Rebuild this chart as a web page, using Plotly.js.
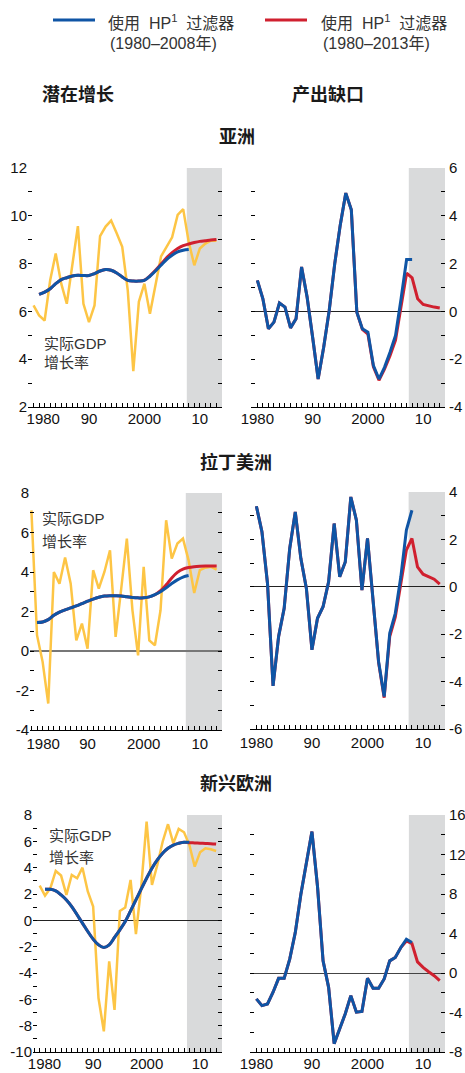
<!DOCTYPE html>
<html>
<head>
<meta charset="utf-8">
<script src="https://cdn.plot.ly/plotly-3.0.1.min.js"></script>
<style>html,body{margin:0;padding:0;background:#fff;}#chart{width:465px;height:1073px;}</style>
</head>
<body>
<div id="chart"></div>
<script>
// ---------- data ----------
const yearsAll = [1980,1981,1982,1983,1984,1985,1986,1987,1988,1989,1990,1991,1992,1993,1994,1995,1996,1997,1998,1999,2000,2001,2002,2003,2004,2005,2006,2007,2008,2009,2010,2011,2012,2013];
const yearsTrendBlue = [1981,1982,1983,1984,1985,1986,1987,1988,1989,1990,1991,1992,1993,1994,1995,1996,1997,1998,1999,2000,2001,2002,2003,2004,2005,2006,2007,2008];
const yearsTrendRed = [1981,1982,1983,1984,1985,1986,1987,1988,1989,1990,1991,1992,1993,1994,1995,1996,1997,1998,1999,2000,2001,2002,2003,2004,2005,2006,2007,2008,2009,2010,2011,2012,2013];
const yearsGapBlue = [1980,1981,1982,1983,1984,1985,1986,1987,1988,1989,1990,1991,1992,1993,1994,1995,1996,1997,1998,1999,2000,2001,2002,2003,2004,2005,2006,2007,2008];

// Asia
const asiaGrowth = [6.25,5.83,5.62,7.3,8.42,7.16,6.32,8.0,9.57,6.32,5.55,6.25,9.15,9.55,9.8,9.27,8.7,6.88,3.5,6.4,7.16,5.9,7.16,8.3,8.7,9.1,10.04,10.28,8.9,7.93,8.63,8.84,8.96,8.96];
const asiaTrendBlue = [6.71,6.81,6.95,7.16,7.33,7.41,7.48,7.51,7.50,7.50,7.58,7.69,7.75,7.72,7.61,7.44,7.30,7.27,7.27,7.30,7.47,7.69,7.93,8.17,8.35,8.49,8.56,8.59];
const asiaTrendRed = [6.71,6.81,6.95,7.16,7.33,7.41,7.48,7.51,7.50,7.50,7.58,7.69,7.75,7.72,7.61,7.44,7.30,7.27,7.27,7.31,7.49,7.72,7.98,8.24,8.46,8.63,8.75,8.82,8.88,8.93,8.96,8.99,9.01];
const asiaGapBlue = [1.3,0.53,-0.73,-0.45,0.35,0.18,-0.69,-0.31,1.86,0.6,-1.08,-2.83,-1.5,0.04,2.0,3.62,4.95,4.25,-0.03,-0.73,-0.87,-2.27,-2.83,-2.34,-1.71,-1.01,0.53,2.17,2.17];
const asiaGapRed = [1.3,0.53,-0.73,-0.45,0.35,0.18,-0.69,-0.31,1.86,0.6,-1.08,-2.83,-1.5,0.04,2.0,3.62,4.95,4.25,-0.03,-0.75,-0.95,-2.32,-2.88,-2.42,-1.85,-1.2,0.2,1.6,1.4,0.53,0.29,0.22,0.18,0.14];

// Latin America
const latamGrowth = [7.12,0.8,-0.55,-2.66,4.0,3.41,4.73,3.41,0.54,1.39,0.12,4.09,3.16,4.0,5.1,0.71,3.16,5.69,2.06,-0.22,4.26,0.54,0.29,2.06,6.62,4.68,5.44,5.69,4.59,2.94,4.09,4.22,4.26,4.12];
const latamTrendBlue = [1.44,1.47,1.59,1.81,1.97,2.08,2.18,2.28,2.40,2.52,2.63,2.72,2.78,2.80,2.80,2.79,2.75,2.71,2.69,2.70,2.74,2.85,3.00,3.20,3.42,3.60,3.74,3.82];
const latamTrendRed = [1.44,1.47,1.59,1.81,1.97,2.08,2.18,2.28,2.40,2.52,2.63,2.72,2.78,2.80,2.80,2.79,2.75,2.71,2.69,2.70,2.74,2.85,3.05,3.35,3.70,3.98,4.15,4.23,4.27,4.29,4.30,4.30,4.30];
const latamGapBlue = [3.4,2.32,0.14,-4.18,-2.1,-0.91,1.62,3.16,1.2,-0.07,-2.66,-1.33,-0.84,0.21,2.67,0.42,1.05,3.79,2.81,-0.14,2.04,-0.56,-3.16,-4.63,-1.96,-1.12,0.42,2.39,3.23];
const latamGapRed = [3.4,2.32,0.14,-4.18,-2.1,-0.91,1.62,3.16,1.2,-0.07,-2.66,-1.33,-0.84,0.21,2.67,0.42,1.05,3.79,2.81,-0.14,2.04,-0.56,-3.2,-4.68,-2.1,-1.28,0.07,1.55,2.04,0.84,0.53,0.42,0.32,0.11];

// Emerging Europe
const eeGrowth = [2.64,1.88,2.44,3.75,3.4,1.93,3.45,3.2,4.0,2.19,1.05,-5.9,-8.43,-3.12,-6.8,0.72,0.97,3.07,-1.05,2.6,7.5,2.69,4.2,5.97,7.3,5.85,6.94,6.69,5.72,4.08,5.17,5.47,5.4,5.27];
const eeTrendBlue = [2.36,2.36,2.24,1.93,1.55,1.05,0.42,-0.21,-0.85,-1.43,-1.86,-2.06,-1.86,-1.3,-0.72,-0.09,0.72,1.55,2.39,3.2,3.96,4.59,5.1,5.47,5.72,5.85,5.93,5.93];
const eeTrendRed = [2.36,2.36,2.24,1.93,1.55,1.05,0.42,-0.21,-0.85,-1.43,-1.86,-2.06,-1.86,-1.3,-0.72,-0.09,0.72,1.55,2.39,3.2,3.96,4.59,5.1,5.47,5.72,5.85,5.93,5.9,5.88,5.86,5.84,5.82,5.79];
const eeGapBlue = [-2.62,-3.3,-3.13,-1.95,-0.54,-0.54,1.4,4.09,7.95,11.13,14.32,8.78,1.23,-1.45,-7.15,-5.64,-4.13,-2.29,-3.97,-3.9,-0.54,-1.55,-1.55,-0.6,1.23,1.57,2.58,3.42,3.08];
const eeGapRed = [-2.62,-3.3,-3.13,-1.95,-0.54,-0.54,1.4,4.09,7.95,11.13,14.32,8.78,1.23,-1.45,-7.15,-5.64,-4.13,-2.29,-3.97,-3.9,-0.54,-1.55,-1.55,-0.6,1.23,1.57,2.58,3.25,2.98,1.13,0.57,0.13,-0.27,-0.78];

// tick labels
const xTickVals = [1980,1990,2000,2010];
const xTickText = ["1980","90","2000","10"];
const xMinorVals = [1979,1980,1981,1982,1983,1984,1985,1986,1987,1988,1989,1990,1991,1992,1993,1994,1995,1996,1997,1998,1999,2000,2001,2002,2003,2004,2005,2006,2007,2008,2009,2010,2011,2012,2013,2014];

// text
const legendBlue = ["使用\u00a0\u00a0HP<sup>1</sup>\u00a0\u00a0过滤器","(1980–2008年)"];
const legendRed = ["使用\u00a0\u00a0HP<sup>1</sup>\u00a0\u00a0过滤器","(1980–2013年)"];
const colTitles = ["潜在增长","产出缺口"];
const regionTitles = ["亚洲","拉丁美洲","新兴欧洲"];
const growthLabel = ["实际GDP","增长率"];

// ---------- styling ----------
const W = 465, H = 1073;
const C_YEL = '#fdc545', C_BLUE = '#0f55a5', C_RED = '#d0202f', C_SHADE = '#d9dadb';
const NUM_FONT = 'Liberation Sans Narrow, Arial Narrow, Liberation Sans, sans-serif';
const CJK_FONT = 'Liberation Sans, Noto Sans CJK SC, sans-serif';
const px = v => v / W;
const py = v => 1 - v / H;

function yticks(lo, hi, step, labelStep) {
  const vals = [], txt = [];
  for (let v = lo; v <= hi + 1e-9; v += step) {
    vals.push(v);
    const isLab = Math.abs(Math.round(v / labelStep) * labelStep - v) < 1e-9;
    txt.push(isLab ? String(v) : '');
  }
  return {vals, txt};
}

// labelShift: offset (in years) of the first label so it clears the y-axis label
function xAxis(domL, domR, range, anchor, labelShift, standoff) {
  const tv = xTickVals.slice();
  tv[0] = tv[0] + labelShift;
  return {
    domain: [px(domL), px(domR)], range: range, anchor: anchor,
    showgrid: false, zeroline: false, showline: true, linecolor: '#000', linewidth: 1,
    tickmode: 'array', tickvals: tv, ticktext: xTickText,
    ticks: 'inside', ticklen: 0, tickcolor: '#000', tickwidth: 1,
    minor: {tickmode: 'array', tickvals: xMinorVals, ticks: 'inside', ticklen: 4, tickcolor: '#000', tickwidth: 1},
    tickfont: {family: NUM_FONT, size: 15, color: '#111'},
    ticklabelstandoff: standoff === undefined ? -2 : standoff,
    fixedrange: true
  };
}
function yAxis(top, bottom, range, step, labelStep, side, anchor, zero, zc, zw) {
  const t = yticks(range[0], range[1], step, labelStep);
  return {
    domain: [py(bottom), py(top)], range: range, anchor: anchor, side: side,
    showgrid: false, showline: false,
    zeroline: zero, zerolinecolor: zc || '#222', zerolinewidth: zw || 1,
    tickmode: 'array', tickvals: t.vals, ticktext: t.txt,
    ticks: 'inside', ticklen: 4, tickcolor: '#000', tickwidth: 1, mirror: 'ticks',
    tickfont: {family: NUM_FONT, size: 15, color: '#111'},
    ticklabelstandoff: side === 'right' ? 3 : 0,
    fixedrange: true
  };
}

const layout = {
  width: W, height: H,
  margin: {l: 0, r: 0, t: 0, b: 0},
  paper_bgcolor: '#fff', plot_bgcolor: 'rgba(0,0,0,0)',
  showlegend: false,
  xaxis:  xAxis(28, 222, [1979.0, 2014.0], 'y', 1.75),
  yaxis:  yAxis(168, 407, [2, 12], 1, 2, 'left', 'x', false),
  xaxis2: xAxis(251, 445, [1978.85, 2013.95], 'y2', 0),
  yaxis2: yAxis(168, 407, [-4, 6], 1, 2, 'right', 'x2', true, '#222', 1),
  xaxis3: xAxis(30, 222, [1979.75, 2013.95], 'y3', 2.1, 0),
  yaxis3: yAxis(493, 730, [-4, 8], 1, 2, 'left', 'x3', true, '#777', 2),
  xaxis4: xAxis(250, 445, [1978.85, 2013.95], 'y4', 0, 0),
  yaxis4: yAxis(492, 729, [-6, 4], 1, 2, 'right', 'x4', true, '#222', 1),
  xaxis5: xAxis(33, 222, [1978.75, 2014.1], 'y5', 0.9),
  yaxis5: yAxis(815, 1052, [-10, 8], 1, 2, 'left', 'x5', true, '#222', 1),
  xaxis6: xAxis(250, 445, [1978.85, 2013.95], 'y6', 0),
  yaxis6: yAxis(815, 1052, [-8, 16], 2, 4, 'right', 'x6', true, '#444', 1),
  shapes: [], annotations: []
};

// forecast shading
[['x','y',2007.65,2014.0],['x2','y2',2007.4,2013.95],['x3','y3',2007.5,2013.95],
 ['x4','y4',2007.4,2013.95],['x5','y5',2007.55,2014.1],['x6','y6',2007.45,2013.95]].forEach(s => {
  layout.shapes.push({type: 'rect', xref: s[0], yref: s[1] + ' domain', x0: s[2], x1: s[3], y0: 0, y1: 1,
    fillcolor: C_SHADE, line: {width: 0}, layer: 'below'});
});

// legend
layout.shapes.push({type: 'line', xref: 'paper', yref: 'paper', x0: px(53), x1: px(95), y0: py(20), y1: py(20), line: {color: C_BLUE, width: 3}});
layout.shapes.push({type: 'line', xref: 'paper', yref: 'paper', x0: px(265), x1: px(307), y0: py(20), y1: py(20), line: {color: C_RED, width: 3}});
function ann(text, x, y, opts) {
  layout.annotations.push(Object.assign({text: text, xref: 'paper', yref: 'paper', x: px(x), y: py(y),
    xanchor: 'left', yanchor: 'middle', showarrow: false,
    font: {family: CJK_FONT, size: 15, color: '#333'}}, opts || {}));
}
const legFont = {family: CJK_FONT, size: 16, color: '#333'};
ann(legendBlue[0], 106, 22, {font: legFont});
ann(legendBlue[1], 108, 43, {font: legFont});
ann(legendRed[0], 319, 22, {font: legFont});
ann(legendRed[1], 321, 43, {font: legFont});

const titleFont = {family: 'Noto Sans CJK SC, sans-serif', size: 18, color: '#1a1a1a', weight: 'bold'};
ann('<b>' + colTitles[0] + '</b>', 78, 93, {xanchor: 'center', font: titleFont});
ann('<b>' + colTitles[1] + '</b>', 328, 93, {xanchor: 'center', font: titleFont});
ann('<b>' + regionTitles[0] + '</b>', 237, 135, {xanchor: 'center', font: titleFont});
ann('<b>' + regionTitles[1] + '</b>', 236, 461, {xanchor: 'center', font: titleFont});
ann('<b>' + regionTitles[2] + '</b>', 236, 782, {xanchor: 'center', font: titleFont});

// "实际GDP 增长率" labels
[[42, 343, 362], [40, 518, 541], [47, 835, 857]].forEach(p => {
  ann(growthLabel[0], p[0], p[1]);
  ann(growthLabel[1], p[0], p[2]);
});

// ---------- traces ----------
function ln(x, y, xa, ya, color, width, shape) {
  return {type: 'scatter', mode: 'lines', x: x, y: y, xaxis: xa, yaxis: ya,
    line: {color: color, width: width, shape: shape || 'linear', smoothing: shape === 'spline' ? 1 : undefined},
    hoverinfo: 'skip'};
}
const traces = [
  ln(yearsAll, asiaGrowth, 'x', 'y', C_YEL, 2.5),
  ln(yearsTrendRed, asiaTrendRed, 'x', 'y', C_RED, 3, 'spline'),
  ln(yearsTrendBlue, asiaTrendBlue, 'x', 'y', C_BLUE, 3, 'spline'),
  ln(yearsAll, asiaGapRed, 'x2', 'y2', C_RED, 3),
  ln(yearsGapBlue, asiaGapBlue, 'x2', 'y2', C_BLUE, 3),

  ln(yearsAll, latamGrowth, 'x3', 'y3', C_YEL, 2.5),
  ln(yearsTrendRed, latamTrendRed, 'x3', 'y3', C_RED, 3, 'spline'),
  ln(yearsTrendBlue, latamTrendBlue, 'x3', 'y3', C_BLUE, 3, 'spline'),
  ln(yearsAll, latamGapRed, 'x4', 'y4', C_RED, 3),
  ln(yearsGapBlue, latamGapBlue, 'x4', 'y4', C_BLUE, 3),

  ln(yearsAll, eeGrowth, 'x5', 'y5', C_YEL, 2.5),
  ln(yearsTrendRed, eeTrendRed, 'x5', 'y5', C_RED, 3, 'spline'),
  ln(yearsTrendBlue, eeTrendBlue, 'x5', 'y5', C_BLUE, 3, 'spline'),
  ln(yearsAll, eeGapRed, 'x6', 'y6', C_RED, 3),
  ln(yearsGapBlue, eeGapBlue, 'x6', 'y6', C_BLUE, 3)
];

Plotly.newPlot('chart', traces, layout, {staticPlot: true, displayModeBar: false});
</script>
</body>
</html>
